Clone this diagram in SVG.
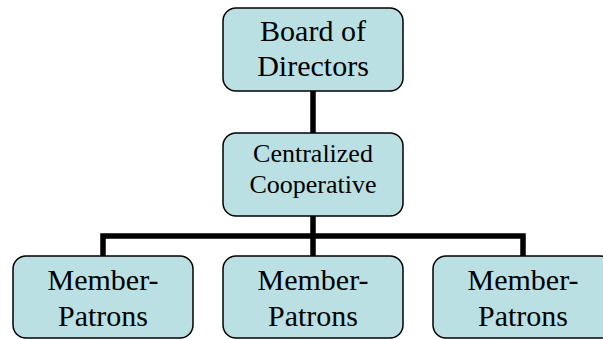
<svg xmlns="http://www.w3.org/2000/svg" width="603" height="339" viewBox="0 0 603 339">
  <style>
    .box { fill: #bae0e3; stroke: #000; stroke-width: 1.5; }
    .lbl { font-family: "Liberation Serif", "Times New Roman", serif; fill: #000; text-anchor: middle; }
    .big { font-size: 30px; }
    .mid { font-size: 26px; }
    .link { fill: none; stroke: #000; stroke-width: 5.5; stroke-linecap: butt; stroke-linejoin: miter; }
  </style>
  <rect width="603" height="339" fill="#fff"/>

  <!-- connecting lines -->
  <g id="connectors">
    <path class="link" d="M313 91 V133"/>
    <path class="link" d="M313 216 V256"/>
    <path class="link" d="M103 256 V236 H523 V256"/>
  </g>

  <g id="board">
    <rect class="box" x="223" y="8" width="180" height="83" rx="13"/>
    <text class="lbl big" x="313" y="41">Board of</text>
    <text class="lbl big" x="313" y="76">Directors</text>
  </g>

  <g id="central">
    <rect class="box" x="223" y="133" width="180" height="83" rx="13"/>
    <text class="lbl mid" x="313" y="162">Centralized</text>
    <text class="lbl mid" x="313" y="193">Cooperative</text>
  </g>

  <g id="member1">
    <rect class="box" x="13" y="256" width="180" height="82" rx="13"/>
    <text class="lbl big" x="103" y="290">Member-</text>
    <text class="lbl big" x="103" y="326">Patrons</text>
  </g>

  <g id="member2">
    <rect class="box" x="223" y="256" width="180" height="82" rx="13"/>
    <text class="lbl big" x="313" y="290">Member-</text>
    <text class="lbl big" x="313" y="326">Patrons</text>
  </g>

  <g id="member3">
    <rect class="box" x="433" y="256" width="180" height="82" rx="13"/>
    <text class="lbl big" x="523" y="290">Member-</text>
    <text class="lbl big" x="523" y="326">Patrons</text>
  </g>
</svg>
